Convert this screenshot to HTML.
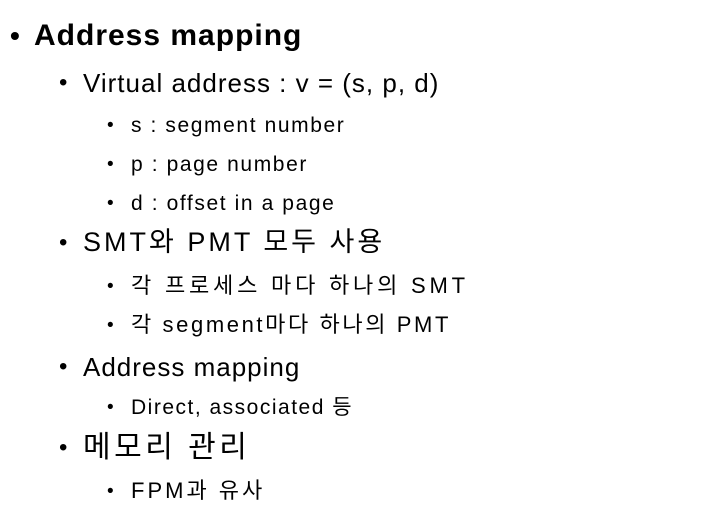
<!DOCTYPE html>
<html><head><meta charset="utf-8"><style>
body{margin:0;width:709px;height:516px;background:#fff;position:relative;overflow:hidden;font-family:"Liberation Sans","Noto Sans CJK KR",sans-serif;color:#000}
.l{position:absolute;white-space:nowrap;line-height:1}
.b1{left:10px;font-size:28px;font-weight:bold}
.t1{left:34px;font-size:30px;font-weight:bold;letter-spacing:1px}
.b2{left:59px;font-size:24px}
.t2{left:83px;font-size:26px;letter-spacing:1px}
.b3{left:107px;font-size:19px}
.t3{left:131px;font-size:21px;letter-spacing:1.6px}
</style></head><body>
<div class="l b1" style="top:22px">•</div><div class="l t1" style="top:21px">Address mapping</div>
<div class="l b2" style="top:71px">•</div><div class="l t2" style="top:70px">Virtual address : v = (s, p, d)</div>
<div class="l b3" style="top:116px">•</div><div class="l t3" style="top:115px">s : segment number</div>
<div class="l b3" style="top:155px">•</div><div class="l t3" style="top:154px">p : page number</div>
<div class="l b3" style="top:194px">•</div><div class="l t3" style="top:193px">d : offset in a page</div>
<div class="l b2" style="top:231px">•</div><div class="l t2" style="top:229px;font-size:27px;letter-spacing:3px">SMT와 PMT 모두 사용</div>
<div class="l b3" style="top:277px">•</div><div class="l t3" style="top:275px;font-size:22px;letter-spacing:3.8px">각 프로세스 마다 하나의 SMT</div>
<div class="l b3" style="top:316px">•</div><div class="l t3" style="top:314px;font-size:22px;letter-spacing:2.6px">각 segment마다 하나의 PMT</div>
<div class="l b2" style="top:355px">•</div><div class="l t2" style="top:354px">Address mapping</div>
<div class="l b3" style="top:398px">•</div><div class="l t3" style="top:397px;letter-spacing:1.5px">Direct, associated 등</div>
<div class="l b2" style="top:436px">•</div><div class="l t2" style="top:433px;font-size:30px;letter-spacing:3.5px">메모리 관리</div>
<div class="l b3" style="top:482px">•</div><div class="l t3" style="top:480px;font-size:22px;letter-spacing:3px">FPM과 유사</div>
</body></html>
